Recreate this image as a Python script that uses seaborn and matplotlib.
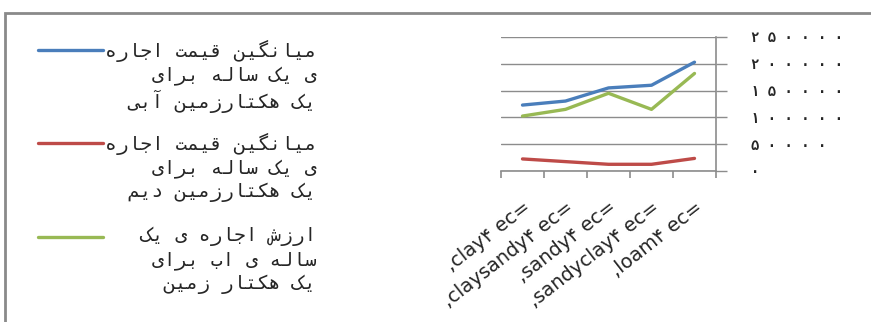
import matplotlib
matplotlib.use("Agg")
import matplotlib.pyplot as plt
import seaborn as sns
import pandas as pd
from matplotlib.lines import Line2D
from matplotlib.patches import Rectangle
from matplotlib.ticker import FuncFormatter

categories = [",clay۴ ec=", ",claysandy۴ ec=", ",sandy۴ ec=", ",sandyclay۴ ec=", ",loam۴ ec="]
irrigated = [123000, 130500, 155000, 160000, 203000]
dryland = [22500, 17500, 12500, 12500, 23500]
water = [102500, 115000, 145000, 115000, 182000]
series_names = [
    "میانگین قیمت اجاره\nی یک ساله برای\nیک هکتارزمین آبی",
    "میانگین قیمت اجاره\nی یک ساله برای\nیک هکتارزمین دیم",
    "ارزش اجاره ی یک\nساله ی اب برای\nیک هکتار زمین",
]
colors = ["#4a7ebb", "#be4b48", "#98b954"]
yticks = [0, 50000, 100000, 150000, 200000, 250000]

# matplotlib has no arabic shaping, so pick the presentation forms by hand
FORMS = {
    "ا": ("\ufe8d", "\ufe8e", None, None),
    "آ": ("\ufe81", "\ufe82", None, None),
    "ب": ("\ufe8f", "\ufe90", "\ufe91", "\ufe92"),
    "ت": ("\ufe95", "\ufe96", "\ufe97", "\ufe98"),
    "ج": ("\ufe9d", "\ufe9e", "\ufe9f", "\ufea0"),
    "د": ("\ufea9", "\ufeaa", None, None),
    "ر": ("\ufead", "\ufeae", None, None),
    "ز": ("\ufeaf", "\ufeb0", None, None),
    "س": ("\ufeb1", "\ufeb2", "\ufeb3", "\ufeb4"),
    "ش": ("\ufeb5", "\ufeb6", "\ufeb7", "\ufeb8"),
    "ق": ("\ufed5", "\ufed6", "\ufed7", "\ufed8"),
    "ل": ("\ufedd", "\ufede", "\ufedf", "\ufee0"),
    "م": ("\ufee1", "\ufee2", "\ufee3", "\ufee4"),
    "ن": ("\ufee5", "\ufee6", "\ufee7", "\ufee8"),
    "ه": ("\ufee9", "\ufeea", "\ufeeb", "\ufeec"),
    "ک": ("\ufb8e", "\ufb8f", "\ufb90", "\ufb91"),
    "گ": ("\ufb92", "\ufb93", "\ufb94", "\ufb95"),
    "ی": ("\ufbfc", "\ufbfd", "\ufbfe", "\ufbff"),
}
DUAL = set("بتجسشقلمنهکگی")


def shape(line):
    out = []
    for i, c in enumerate(line):
        if c not in FORMS:
            out.append(c)
            continue
        prev = line[i - 1] if i > 0 else ""
        nxt = line[i + 1] if i + 1 < len(line) else ""
        jp = prev in DUAL
        jn = c in DUAL and nxt in FORMS
        iso, fin, ini, med = FORMS[c]
        if jp and jn:
            out.append(med)
        elif jp:
            out.append(fin)
        elif jn:
            out.append(ini)
        else:
            out.append(iso)
    return "".join(reversed(out))


def rtl(text):
    return "\n".join(shape(l) for l in text.split("\n"))


def fa_digits(v, pos):
    s = str(int(round(v)))
    return " ".join("۰۱۲۳۴۵۶۷۸۹"[int(d)] for d in s)


df = pd.DataFrame({
    "cat": categories * 3,
    "value": irrigated + dryland + water,
    "series": [series_names[0]] * 5 + [series_names[1]] * 5 + [series_names[2]] * 5,
})

sns.set_style("white")
plt.rcParams["font.family"] = ["DejaVu Sans"]

fig = plt.figure(figsize=(8.71, 3.22), dpi=100)
ax = fig.add_axes([501 / 871, 1 - 171 / 322, 215 / 871, 134 / 322])

sns.lineplot(data=df, x="cat", y="value", hue="series", palette=colors,
             sort=False, linewidth=2.4, legend=False, ax=ax,
             solid_capstyle="round")

ax.set_xlim(-0.5, 4.5)
ax.set_ylim(0, 250000)
ax.set_xlabel("")
ax.set_ylabel("")

ax.yaxis.tick_right()
ax.set_yticks(yticks)
ax.yaxis.set_major_formatter(FuncFormatter(fa_digits))
ax.tick_params(axis="y", which="major", length=8, color="#8c8c8c", width=1,
               pad=17, labelsize=10, right=True, left=False)
for t in ax.get_yticklabels():
    t.set_family(["DejaVu Sans Mono", "DejaVu Sans"])
    t.set_fontweight("bold")
ax.grid(axis="y", color="#8c8c8c", linewidth=1)
ax.grid(axis="x", visible=False)

ax.set_xticks(range(5))
ax.set_xticklabels(categories, rotation=38, ha="right", rotation_mode="anchor",
                   family=["DejaVu Sans"], fontsize=14)
ax.set_xticks([-0.5, 0.5, 1.5, 2.5, 3.5, 4.5], minor=True)
ax.tick_params(axis="x", which="major", length=0, pad=19)
ax.tick_params(axis="x", which="minor", length=5, color="#8c8c8c", width=1.2, bottom=True)

for side in ["left", "top"]:
    ax.spines[side].set_visible(False)
for side in ["right", "bottom"]:
    ax.spines[side].set_color("#8c8c8c")
    ax.spines[side].set_linewidth(1.2)

# legend drawn by hand: handle sits on the first line of each label
W, H = 871, 322
legend_rows = [50, 143, 237]
for name, col, yrow in zip(series_names, colors, legend_rows):
    fig.add_artist(Line2D([38 / W, 103 / W], [1 - yrow / H, 1 - yrow / H],
                          transform=fig.transFigure, color=col, linewidth=2.4,
                          solid_capstyle="round"))
    fig.text(316 / W, 1 - (yrow - 10) / H, rtl(name), ha="right", va="top",
             multialignment="right", fontsize=14, linespacing=1.25,
             family=["DejaVu Sans Mono", "DejaVu Sans"])

# outer frame of the excel chart object
fig.add_artist(Rectangle((5 / W, -0.1), 1.2, 1.1 - 13 / H, transform=fig.transFigure,
                         fill=False, edgecolor="#8a8a8a", linewidth=2))

fig.savefig("out.png", dpi=100)
